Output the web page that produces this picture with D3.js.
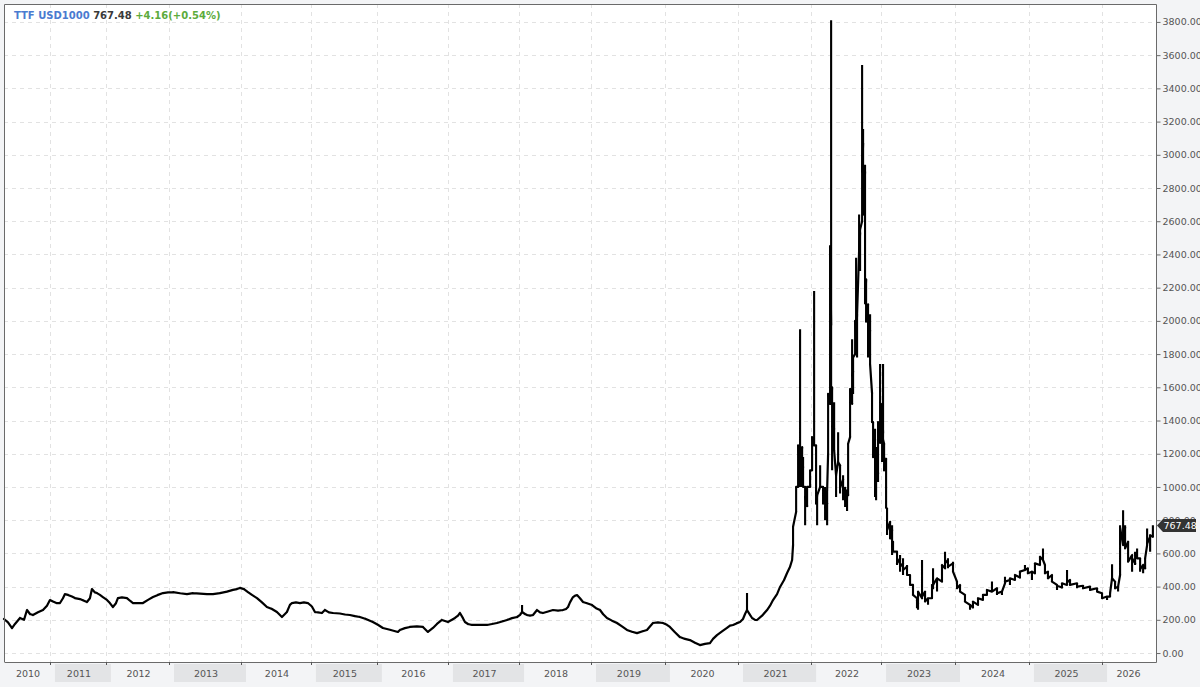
<!DOCTYPE html>
<html><head><meta charset="utf-8">
<script src="https://cdn.jsdelivr.net/npm/d3@7/dist/d3.min.js"></script>
<style>
html,body{margin:0;padding:0;background:#f3f4f6;}
svg{display:block;font-family:"DejaVu Sans",sans-serif;}
</style>
</head><body>
<svg id="chart" width="1200" height="687"></svg>
<script>
// ---------- DATA ----------
const symbol = "TTF USD1000";
const lastPrice = 767.48;
const change = 4.16;
const changePct = 0.54;

const years = [2010,2011,2012,2013,2014,2015,2016,2017,2018,2019,2020,2021,2022,2023,2024,2025,2026];
const barsPerYear = [161,196,221,252,245,231,249,249,252,259,256,256,245,259,259,256,179];
const yearLabels = ["2010","2011","2012","2013","2014","2015","2016","2017","2018","2019","2020","2021","2022","2023","2024","2025","2026"];
const yTicks = [0,200,400,600,800,1000,1200,1400,1600,1800,2000,2200,2400,2600,2800,3000,3200,3400,3600,3800];

// sample positions: year + fraction of that year's bars
const dates = [
2010.000,2010.087,2010.174,2010.239,2010.348,2010.435,2010.500,2010.565,2010.630,2010.739,2010.848,2010.935,
2011.000,2011.054,2011.125,2011.179,2011.232,2011.268,2011.321,2011.393,2011.446,2011.536,2011.607,2011.661,2011.714,2011.750,2011.804,2011.839,2011.893,2011.946,
2012.016,2012.063,2012.111,2012.159,2012.190,2012.254,2012.333,2012.381,2012.429,2012.508,2012.587,2012.667,2012.746,2012.825,2012.905,2012.984,
2013.056,2013.153,2013.250,2013.333,2013.431,2013.528,2013.611,2013.708,2013.806,2013.889,2013.944,2013.986,
2014.043,2014.100,2014.157,2014.229,2014.300,2014.371,2014.443,2014.514,2014.586,2014.629,2014.657,2014.700,2014.729,2014.786,2014.843,2014.900,2014.957,
2015.015,2015.061,2015.106,2015.167,2015.212,2015.273,2015.333,2015.439,2015.515,2015.591,2015.667,2015.742,2015.833,2015.939,
2016.014,2016.085,2016.183,2016.296,2016.324,2016.394,2016.465,2016.563,2016.648,2016.718,2016.789,2016.845,2016.915,
2017.000,2017.056,2017.099,2017.141,2017.169,2017.211,2017.239,2017.282,2017.338,2017.451,2017.549,2017.620,2017.690,2017.761,2017.831,2017.901,2017.972,
2018.014,2018.042,2018.083,2018.111,2018.153,2018.194,2018.250,2018.292,2018.333,2018.403,2018.472,2018.542,2018.611,2018.653,2018.681,2018.708,2018.750,2018.778,2018.806,2018.847,2018.889,2018.944,
2019.014,2019.068,2019.122,2019.162,2019.216,2019.284,2019.351,2019.419,2019.486,2019.554,2019.622,2019.689,2019.757,2019.797,2019.838,2019.905,2019.973,
2020.027,2020.068,2020.137,2020.205,2020.274,2020.342,2020.411,2020.479,2020.548,2020.616,2020.658,2020.712,2020.781,2020.849,2020.890,2020.932,2020.986,
2021.027,2021.068,2021.096,2021.123,2021.164,2021.192,2021.233,2021.260,2021.329,2021.397,2021.438,2021.479,2021.534,2021.575,2021.630,2021.671,2021.712,2021.740,
2021.753,2021.795,2021.822,2021.849,2021.877,2021.890,2021.918,2021.945,2021.986,
2022.014,2022.043,2022.071,2022.086,2022.129,2022.171,2022.200,2022.229,2022.243,2022.271,2022.286,2022.300,2022.329,2022.357,2022.386,2022.414,2022.457,2022.486,2022.514,2022.529,2022.557,2022.586,2022.600,2022.629,2022.643,2022.657,2022.686,2022.700,2022.729,2022.743,2022.771,2022.786,2022.814,2022.843,2022.871,2022.886,2022.914,2022.929,2022.957,2022.986,
2023.014,2023.027,2023.041,2023.068,2023.081,2023.122,2023.149,2023.162,2023.216,2023.257,2023.297,2023.351,2023.392,2023.432,2023.486,2023.500,2023.554,2023.595,2023.635,2023.689,2023.703,2023.757,2023.824,2023.865,2023.905,2023.973,
2024.027,2024.068,2024.135,2024.203,2024.243,2024.311,2024.378,2024.432,2024.500,2024.568,2024.635,2024.676,2024.743,2024.811,2024.878,2024.946,2024.986,
2025.041,2025.082,2025.151,2025.192,2025.219,2025.260,2025.315,2025.384,2025.452,2025.521,2025.562,2025.658,2025.740,2025.836,2025.932,
2026.000,2026.098,2026.157,2026.196,2026.255,2026.314,2026.353,2026.412,2026.451,2026.510,2026.588,2026.647,2026.686,2026.745,2026.804,2026.843,2026.882,2026.941,2026.995
];

const lows = [
205,185,150,175,211,200,259,235,229,245,259,285,
319,310,300,301,330,355,350,340,331,325,315,307,330,385,365,361,350,337,
320,301,277,300,331,335,331,315,301,300,301,320,337,350,361,365,
367,360,355,361,358,355,355,361,370,380,385,392,
385,367,350,331,305,277,265,247,217,235,247,290,301,305,301,305,301,
280,247,245,241,259,245,241,238,232,229,222,217,205,187,
170,151,140,127,139,150,157,160,157,127,151,175,199,
187,200,211,225,241,210,187,175,169,170,169,175,181,190,199,210,217,
230,247,235,229,225,229,259,245,241,250,259,255,259,265,277,305,337,345,349,330,307,300,
289,270,259,235,211,195,181,160,139,128,120,130,139,160,181,185,181,
170,157,125,96,85,78,62,48,55,60,85,108,130,151,165,169,180,
187,205,235,259,230,211,200,199,225,259,285,319,355,398,440,482,520,560,
650,850,1000,1000,1000,1000,770,880,1000,
1100,1250,900,770,1000,900,800,770,1200,1500,1500,1100,1220,940,1150,960,920,880,855,950,1300,1500,1560,1800,1900,1780,2420,2300,2600,2640,2100,1995,1780,1740,1390,1180,940,920,1030,1265,
1150,1285,1100,875,710,690,590,610,530,490,470,470,410,350,270,260,330,310,290,330,390,370,430,510,510,490,
390,370,310,260,270,290,320,350,370,350,350,420,410,440,450,500,480,
440,480,530,560,480,450,430,380,390,410,410,390,390,380,370,
330,320,340,450,390,370,470,650,630,550,490,530,570,490,480,510,650,610,700
];

const highs = [
205,185,150,175,211,200,259,235,229,245,259,285,
319,310,300,301,330,355,350,340,331,325,315,307,330,385,365,361,350,337,
320,301,277,300,331,335,331,315,301,300,301,320,337,350,361,365,
367,360,355,361,358,355,355,361,370,380,385,392,
385,367,350,331,305,277,265,247,217,235,247,290,301,305,301,305,301,
280,247,245,241,259,245,241,238,232,229,222,217,205,187,
170,151,140,127,139,150,157,160,157,127,151,175,199,
187,200,211,225,241,210,187,175,169,170,169,175,181,190,199,210,217,
230,289,235,229,225,229,259,245,241,250,259,255,259,265,277,305,337,345,349,330,307,300,
289,270,259,235,211,195,181,160,139,128,120,130,139,160,181,185,181,
170,157,125,96,85,78,62,48,55,60,85,108,130,151,165,169,180,
187,205,235,361,230,211,200,199,225,259,285,319,355,398,440,482,520,560,
760,1000,1250,1950,1240,1180,1000,1000,1100,
1300,2180,1250,950,1130,1000,1000,980,1560,2450,3810,1600,1510,1070,1330,1130,1070,1000,980,1260,1590,1890,1780,2000,2380,2040,2640,2550,3540,3155,2940,2250,2100,2040,1565,1390,1350,1240,1390,1740,
1500,1740,1260,1170,870,790,770,670,610,590,570,530,470,410,330,370,560,370,330,410,510,450,530,610,570,550,
430,410,350,290,310,330,350,380,430,390,370,460,450,470,490,530,510,
490,540,580,630,530,490,470,410,420,500,440,420,410,400,390,
360,340,360,534,430,400,770,860,770,670,590,610,630,570,530,570,750,710,770
];

// ---------- LAYOUT ----------
const plot = {left: 4, right: 1156, top: 4, bottom: 662};
const svg = d3.select("#chart");

const yearStartBar = {};
let acc = 0;
years.forEach((yr, i) => { yearStartBar[yr] = acc; acc += barsPerYear[i]; });
const totalBars = acc;
function barIndex(t) {
  const yr = Math.floor(t + 1e-9);
  const i = years.indexOf(yr);
  return yearStartBar[yr] + (t - yr) * barsPerYear[i];
}

const x = d3.scaleLinear().domain([0, totalBars + 10]).range([plot.left, plot.right]);
const y = d3.scaleLinear().domain([-54, 3908]).range([plot.bottom, plot.top]);

svg.append("rect").attr("x", plot.left).attr("y", plot.top)
  .attr("width", plot.right - plot.left).attr("height", plot.bottom - plot.top)
  .attr("fill", "#ffffff");

// bottom label strip bands
const stripTop = plot.bottom + 2, stripBot = plot.bottom + 20;
years.forEach((yr, i) => {
  if (yr % 2 === 1) {
    const x0 = x(yearStartBar[yr]) + 5;
    const x1 = x(yearStartBar[yr] + barsPerYear[i]) + 5;
    svg.append("rect").attr("x", x0).attr("y", stripTop)
      .attr("width", x1 - x0).attr("height", stripBot - stripTop)
      .attr("fill", "#e3e4e6");
  }
});

// grid
const grid = svg.append("g").attr("stroke", "#e2e2e2").attr("stroke-dasharray", "4,4").attr("stroke-width", 1);
yTicks.forEach(v => {
  grid.append("line").attr("x1", plot.left).attr("x2", plot.right)
    .attr("y1", Math.round(y(v)) + 0.5).attr("y2", Math.round(y(v)) + 0.5);
});
years.slice(1).forEach(yr => {
  const xx = Math.round(x(yearStartBar[yr])) + 0.5;
  grid.append("line").attr("x1", xx).attr("x2", xx).attr("y1", plot.top).attr("y2", plot.bottom);
});

// ---------- PRICE MARKS ----------
const pts = dates.map((t, i) => ({x: x(barIndex(t)), lo: lows[i], hi: highs[i]}));
let conn = "";
pts.forEach((p, i) => {
  if (i === 0) return;
  const q = pts[i - 1];
  const qMid = (q.lo + q.hi) / 2, pMid = (p.lo + p.hi) / 2;
  const a = Math.max(q.lo, Math.min(q.hi, pMid));
  const b = Math.max(p.lo, Math.min(p.hi, qMid));
  conn += `M${q.x},${y(a)}L${p.x},${y(b)}`;
});
svg.append("path").attr("d", conn).attr("fill", "none")
  .attr("stroke", "#000").attr("stroke-width", 2.2).attr("stroke-linejoin", "round").attr("stroke-linecap", "round");
let bars = "";
pts.forEach(p => {
  if (p.hi > p.lo) bars += `M${p.x},${y(p.hi)}V${y(p.lo)}`;
});
svg.append("path").attr("d", bars).attr("fill", "none")
  .attr("stroke", "#000").attr("stroke-width", 2.1);

// ---------- FRAME & AXES ----------
svg.append("path")
  .attr("d", `M${plot.left + 0.5},${plot.bottom}V${plot.top + 0.5}H${plot.right + 0.5}V${plot.bottom + 0.5}H${plot.left + 0.5}`)
  .attr("fill", "none").attr("stroke", "#6a6a6a").attr("stroke-width", 1);

const yAxis = d3.axisRight(y).tickValues(yTicks).tickFormat(d3.format(".2f")).tickSize(4).tickPadding(2);
const gy = svg.append("g").attr("transform", `translate(${plot.right + 0.5},0)`).call(yAxis);
gy.select(".domain").remove();
gy.selectAll(".tick line").attr("stroke", "#6a6a6a");
gy.selectAll(".tick text").attr("fill", "#555").style("font-size", "9.5px")
  .style("font-family", "'DejaVu Sans', sans-serif");

years.forEach((yr, i) => {
  if (i > 0) {
    const xx = Math.round(x(yearStartBar[yr])) + 0.5;
    svg.append("line").attr("x1", xx).attr("x2", xx).attr("y1", plot.bottom).attr("y2", plot.bottom + 3)
      .attr("stroke", "#555");
  }
  const x0 = Math.max(plot.left, x(yearStartBar[yr]));
  const x1 = x(yearStartBar[yr] + barsPerYear[i]);
  svg.append("text").attr("x", (x0 + x1) / 2 + 1).attr("y", plot.bottom + 15)
    .attr("text-anchor", "middle").attr("fill", "#555").style("font-size", "9.5px")
    .text(yearLabels[i]);
});

// last price tag
const ly = y(lastPrice);
const tx = plot.right + 1;
svg.append("path")
  .attr("d", `M${tx},${ly}L${tx + 6},${ly - 6.5}H${tx + 39}V${ly + 6.5}H${tx + 6}Z`)
  .attr("fill", "#333");
svg.append("text").attr("x", tx + 6.5).attr("y", ly + 3.5).attr("fill", "#fff")
  .style("font-size", "9.5px").text(d3.format(".2f")(lastPrice));

// header
const header = svg.append("text").attr("x", 14).attr("y", 18.5).style("font-size", "10px").style("font-weight", "bold");
header.append("tspan").attr("fill", "#4a7bd0").text(symbol + " ");
header.append("tspan").attr("fill", "#3a3a3a").text(d3.format(".2f")(lastPrice) + " ");
header.append("tspan").attr("fill", "#5cab3c").text(`+${d3.format(".2f")(change)}(+${d3.format(".2f")(changePct)}%)`);
</script>
</body></html>
